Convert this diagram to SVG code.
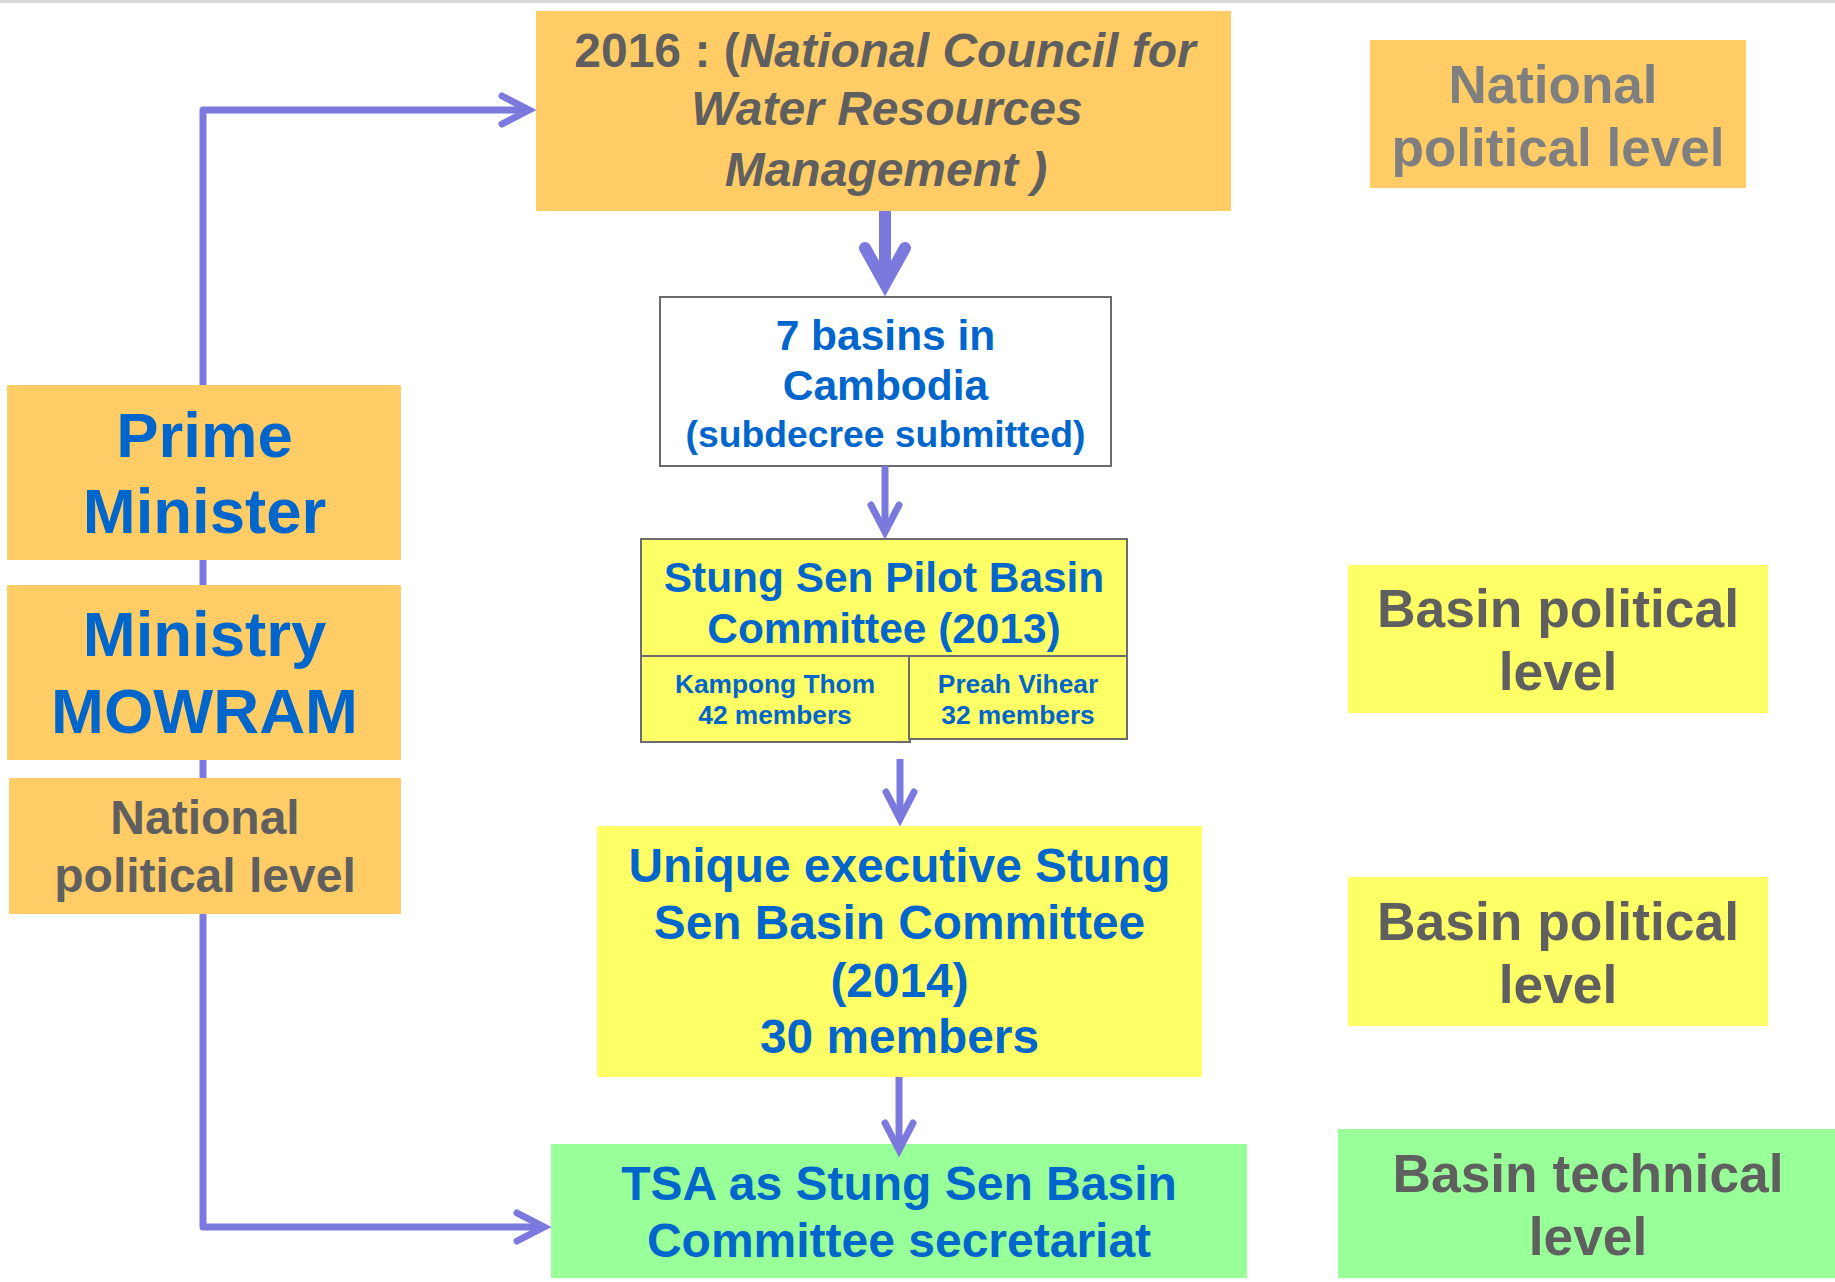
<svg xmlns="http://www.w3.org/2000/svg" width="1835" height="1282" viewBox="0 0 1835 1282">
<style>
.t{font-family:"Liberation Sans",Arial,sans-serif;font-weight:bold;text-anchor:middle}
.blue{fill:#0066CC}
.gray{fill:#5F5F5F}
.lgray{fill:#7F7F7F}
.it{font-style:italic}
.orange{fill:#FFCC66}
.yellow{fill:#FFFF66}
.green{fill:#99FF99}
.bord{stroke:#6B6B6B;stroke-width:2}
.conn{fill:none;stroke:#7B79DE;stroke-width:7}
.head{fill:none;stroke:#7B79DE;stroke-width:7;stroke-linecap:round;stroke-linejoin:miter}
.big{stroke-width:12}
</style>
<rect x="0" y="0" width="1835" height="3" fill="#D9D9D9"/>
<g id="nodes">
<g id="n-council">
<rect class="orange" x="536" y="11" width="695" height="200"/>
<text class="t gray" x="885" y="67" font-size="48">2016 : (<tspan class="it">National Council for</tspan></text>
<text class="t gray it" x="887" y="125" font-size="48">Water Resources</text>
<text class="t gray it" x="886" y="186" font-size="48">Management )</text>
</g>
<g id="n-basins">
<rect x="660" y="297" width="451" height="169" fill="#FFFFFF" class="bord"/>
<text class="t blue" x="885.5" y="350" font-size="42.5">7 basins in</text>
<text class="t blue" x="885.5" y="400" font-size="42.5">Cambodia</text>
<text class="t blue" x="885.5" y="447" font-size="37.3">(subdecree submitted)</text>
</g>
<g id="n-pilot">
<rect class="yellow bord" x="641" y="539" width="486" height="117"/>
<rect class="yellow bord" x="641" y="656" width="269" height="86"/>
<rect class="yellow bord" x="909" y="656" width="218" height="83"/>
<text class="t blue" x="884" y="592" font-size="42.4">Stung Sen Pilot Basin</text>
<text class="t blue" x="884" y="643" font-size="42.4">Committee (2013)</text>
<text class="t blue" x="775" y="693" font-size="26.3">Kampong Thom</text>
<text class="t blue" x="775" y="724" font-size="26.3">42 members</text>
<text class="t blue" x="1018" y="693" font-size="26.3">Preah Vihear</text>
<text class="t blue" x="1018" y="724" font-size="26.3">32 members</text>
</g>
<g id="n-unique">
<rect class="yellow" x="597" y="826" width="605" height="251"/>
<text class="t blue" x="899.5" y="882" font-size="47.8">Unique executive Stung</text>
<text class="t blue" x="899.5" y="939" font-size="47.8">Sen Basin Committee</text>
<text class="t blue" x="899.5" y="997" font-size="47.8">(2014)</text>
<text class="t blue" x="899.5" y="1053" font-size="47.8">30 members</text>
</g>
<g id="n-tsa">
<rect class="green" x="551" y="1144" width="696" height="134"/>
<text class="t blue" x="899" y="1200" font-size="48">TSA as Stung Sen Basin</text>
<text class="t blue" x="899" y="1257" font-size="48">Committee secretariat</text>
</g>
<g id="n-pm">
<rect class="orange" x="7" y="385" width="394" height="175"/>
<text class="t blue" x="204.5" y="457" font-size="63.5">Prime</text>
<text class="t blue" x="204.5" y="533" font-size="63.5">Minister</text>
</g>
<g id="n-ministry">
<rect class="orange" x="7" y="585" width="394" height="175"/>
<text class="t blue" x="204.5" y="656" font-size="63.5">Ministry</text>
<text class="t blue" x="204.5" y="733" font-size="63.5">MOWRAM</text>
</g>
<g id="n-left-national">
<rect class="orange" x="9" y="778" width="392" height="136"/>
<text class="t gray" x="205" y="834" font-size="48">National</text>
<text class="t gray" x="205" y="892" font-size="48">political level</text>
</g>
<g id="n-right-national">
<rect class="orange" x="1370" y="40" width="376" height="148"/>
<text class="t lgray" x="1553" y="103" font-size="53">National</text>
<text class="t lgray" x="1558" y="166" font-size="53">political level</text>
</g>
<g id="n-basin-pol-1">
<rect class="yellow" x="1348" y="565" width="420" height="148"/>
<text class="t gray" x="1558" y="627" font-size="53.4">Basin political</text>
<text class="t gray" x="1558" y="690" font-size="53.4">level</text>
</g>
<g id="n-basin-pol-2">
<rect class="yellow" x="1348" y="877" width="420" height="149"/>
<text class="t gray" x="1558" y="940" font-size="53.4">Basin political</text>
<text class="t gray" x="1558" y="1003" font-size="53.4">level</text>
</g>
<g id="n-basin-tech">
<rect class="green" x="1338" y="1129" width="497" height="149"/>
<text class="t gray" x="1588" y="1192" font-size="53.3">Basin technical</text>
<text class="t gray" x="1588" y="1255" font-size="53.3">level</text>
</g>
</g>
<g id="connectors">
<path class="conn" stroke-linejoin="round" d="M529,110 H203 V385 M203,560 V585 M203,760 V778 M203,914 V1227 H544"/>
<path class="head" d="M502,96 L529,110 L502,124"/>
<path class="head" d="M517,1213 L544,1227 L517,1241"/>
<line class="conn big" x1="885" y1="211" x2="885" y2="282"/>
<path class="head big" d="M865,248 L885,284 L905,248"/>
<line class="conn" x1="885" y1="466" x2="885" y2="530"/>
<path class="head" d="M871,505 L885,532 L899,505"/>
<line class="conn" x1="900" y1="759" x2="900" y2="817"/>
<path class="head" d="M886,792 L900,819 L914,792"/>
<line class="conn" x1="899" y1="1077" x2="899" y2="1148"/>
<path class="head" d="M885,1123 L899,1150 L913,1123"/>
</g>
</svg>
